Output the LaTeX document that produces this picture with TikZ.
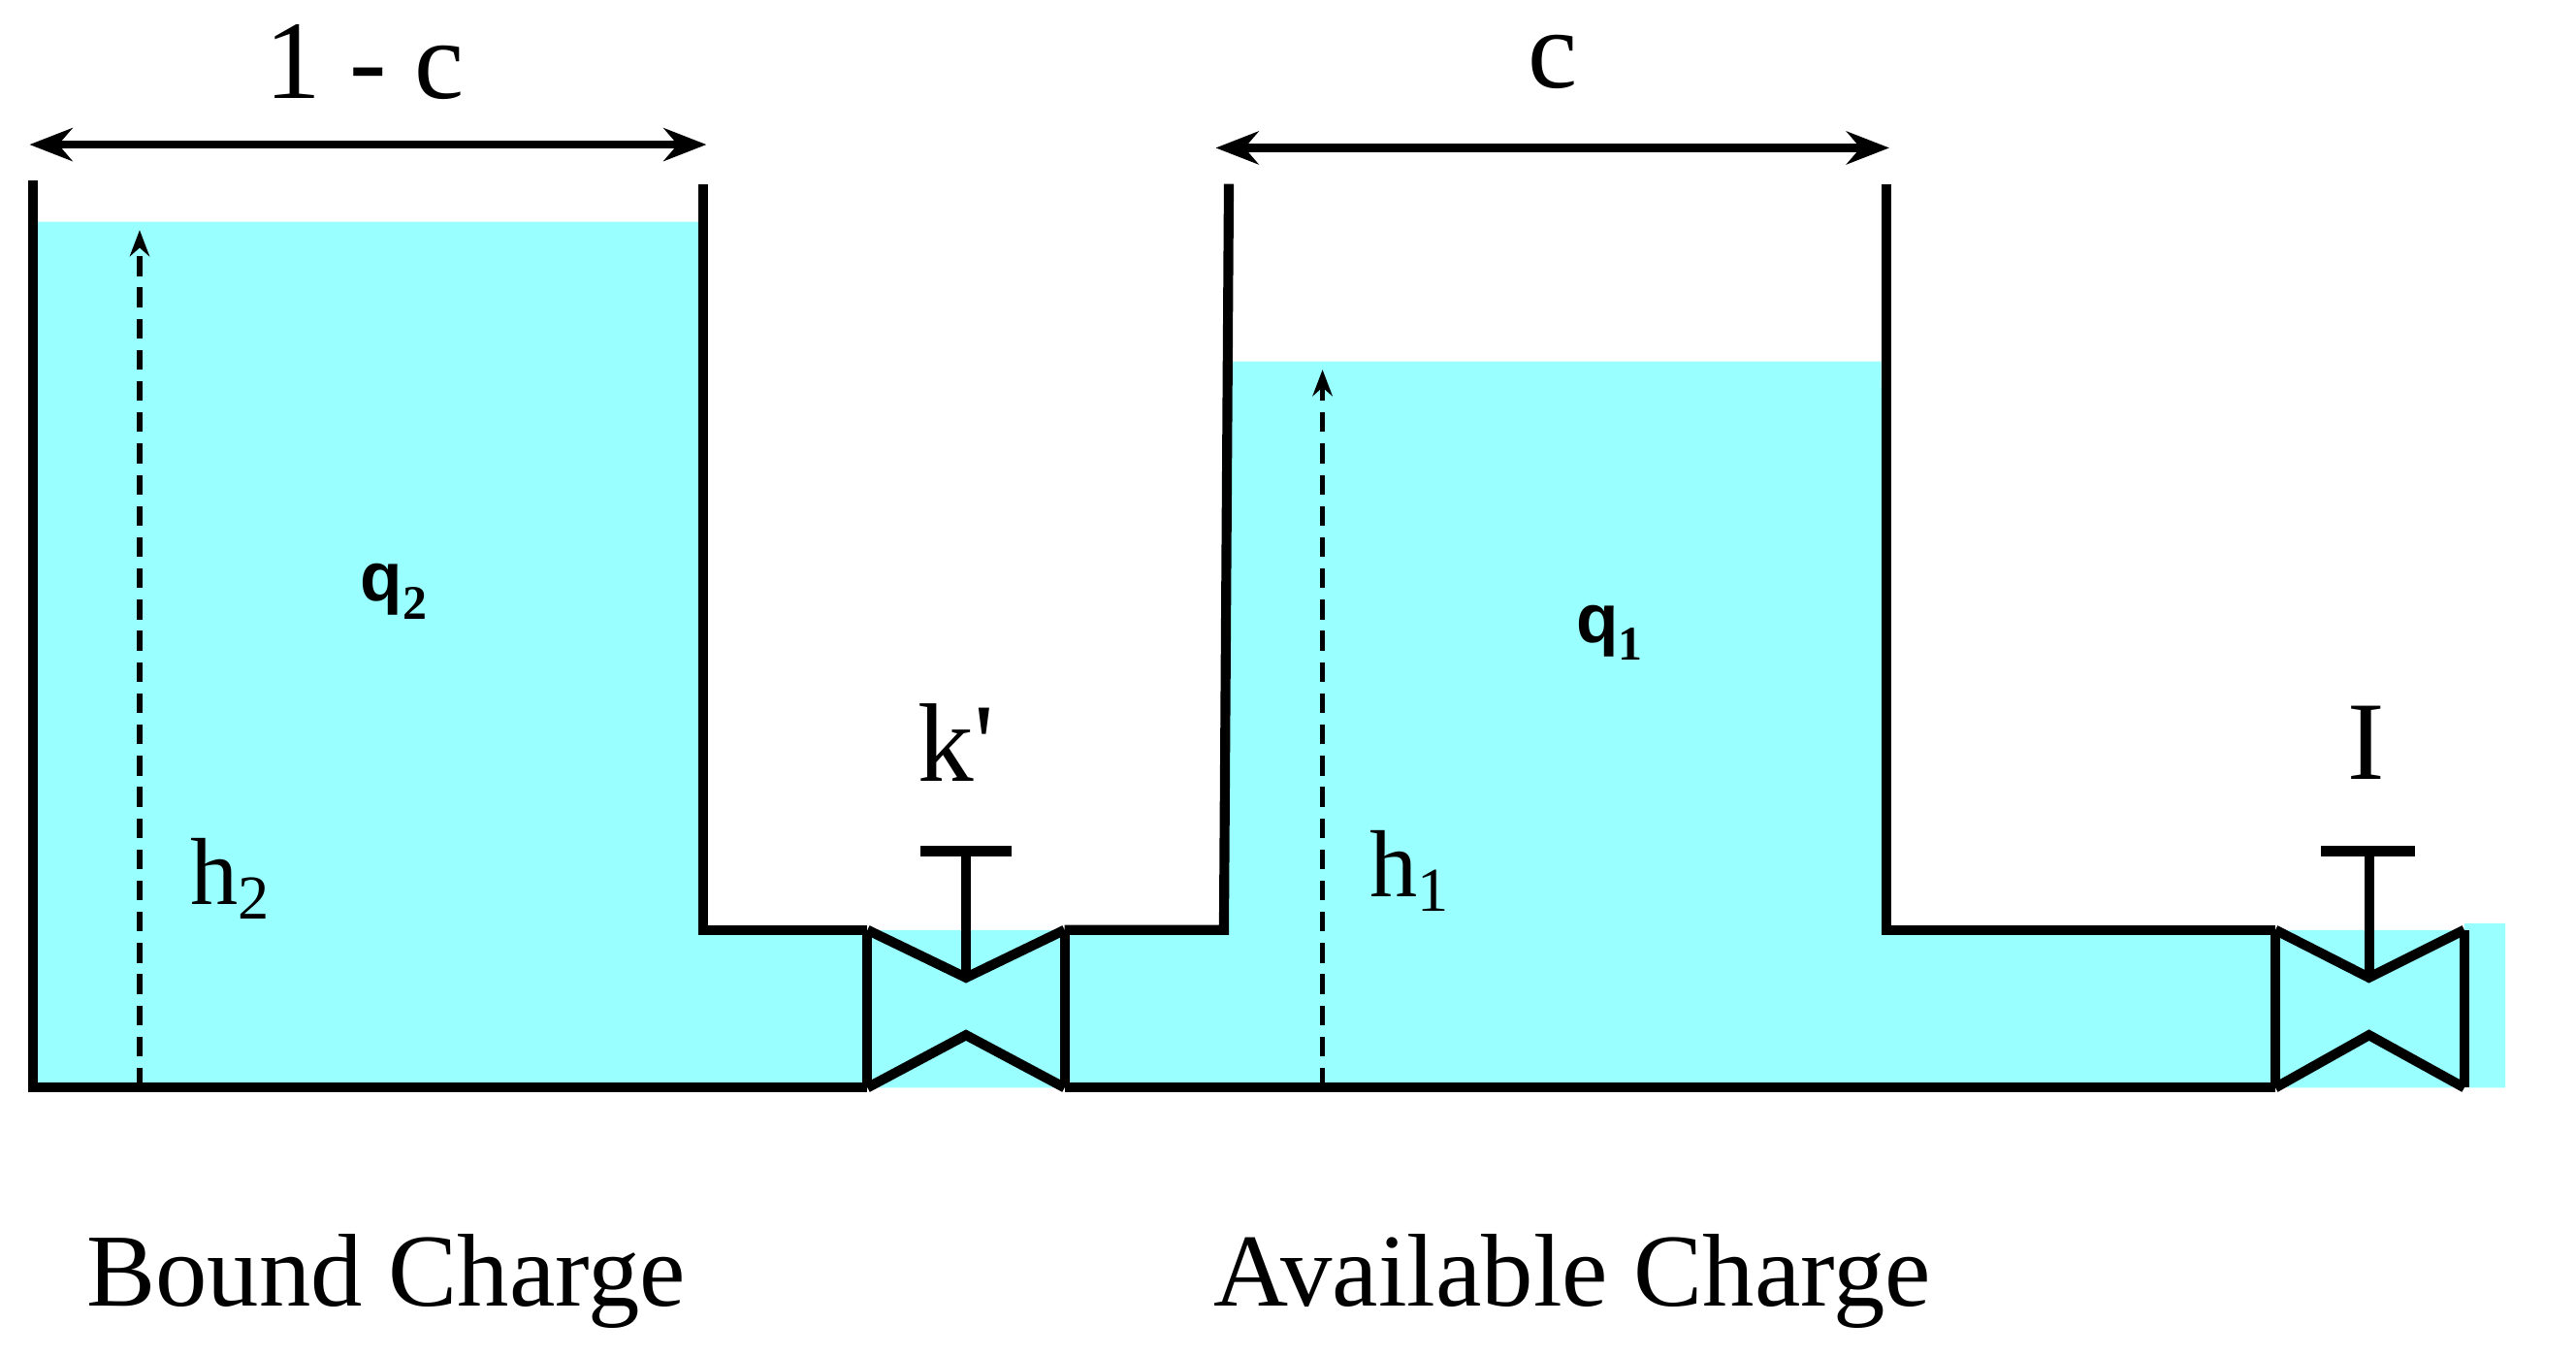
\documentclass[tikz,border=0pt]{standalone}
\usetikzlibrary{arrows.meta}
\usepackage{fontspec}
\setmainfont{Liberation Serif}
\newfontfamily\qfont{Liberation Sans}
\begin{document}
\begin{tikzpicture}[x=1pt,y=-1pt,
  wall/.style={line width=6pt,line join=miter},
  dim/.style={line width=5pt,<->,>={Stealth[length=26pt,width=20pt]}},
  hgt/.style={line width=3pt,dashed,dash pattern=on 12pt off 7pt,->,>={Stealth[length=16pt,width=12pt]}},
  lbl/.style={font=\fontsize{68}{72}\selectfont,inner sep=1pt},
  qlbl/.style={font=\qfont\bfseries\fontsize{42}{46}\selectfont}]
\definecolor{water}{HTML}{99FFFF}
\useasboundingbox (0,0) rectangle (1568,825);
\fill[water] (20,135)--(428,135)--(428,566)--(745,566)--(748,220)--(1145,220)--(1148,566)--(1500,566)--(1500,562)--(1525,562)--(1525,662)--(20,662)--cycle;
% left tank
\draw[wall] (20,110)--(20,662)--(528,662);
\draw[wall] (428,112)--(428,566)--(528,566);
% valve k'
\draw[wall] (528,566)--(528,662) (648,566)--(648,662);
\draw[wall] (528,566)--(588,595)--(648,566) (528,662)--(588,630)--(648,662);
\draw[wall] (588,595)--(588,518) (560,518)--(616,518);
% pipe and right tank
\draw[wall] (648,662)--(1385,662);
\draw[wall] (648,566)--(745,566)--(748,112);
\draw[wall] (1148,112)--(1148,566)--(1385,566);
% valve I
\draw[wall] (1385,566)--(1385,662) (1500,566)--(1500,662);
\draw[wall] (1385,566)--(1442,595)--(1500,566) (1385,662)--(1442,630)--(1500,662);
\draw[wall] (1442,595)--(1442,518) (1413,518)--(1470,518);
% dimension arrows
\coordinate (a1) at (18,88); \coordinate (a2) at (430,88);
\coordinate (b1) at (740,90); \coordinate (b2) at (1150,90);
\draw[dim] (a1)--(a2);
\draw[dim] (b1)--(b2);
\coordinate (h2a) at (85,662); \coordinate (h2b) at (85,140);
\coordinate (h1a) at (805,662); \coordinate (h1b) at (805,225);
\draw[hgt] (h2a)--(h2b);
\draw[hgt] (h1a)--(h1b);
\node[lbl] (lc) at (222,38) {1 - c};
\node[lbl] (c) at (945,38) {c};
\node[lbl] (kp) at (582,452) {k\textquotesingle};
\node[lbl] (I) at (1440,452) {I};
\node[font=\fontsize{58}{62}\selectfont] (h2) at (140,535) {h\raisebox{-9pt}{\fontsize{38}{40}\selectfont 2}};
\node[font=\fontsize{58}{62}\selectfont] (h1) at (858,530) {h\raisebox{-9pt}{\fontsize{38}{40}\selectfont 1}};
\node[qlbl] (q2) at (240,360) {q$_\mathbf{2}$};
\node[qlbl] (q1) at (980,385) {q$_\mathbf{1}$};
\node[font=\fontsize{63}{67}\selectfont] (bc) at (235,780) {Bound Charge};
\node[font=\fontsize{63}{67}\selectfont] (ac) at (957,780) {Available Charge};
\end{tikzpicture}
\end{document}
